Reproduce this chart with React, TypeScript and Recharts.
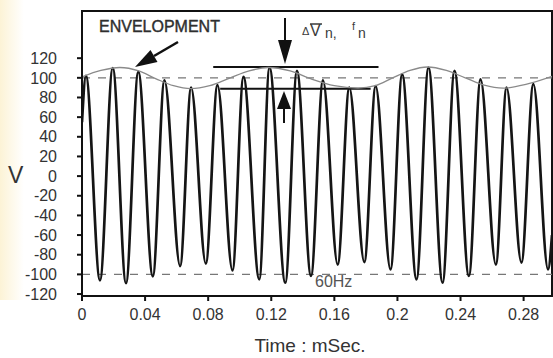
import { ComposedChart, Line, XAxis, YAxis, ReferenceLine, ReferenceArea } from "recharts";

// 60 Hz voltage with a slow modulation of the amplitude (flicker)
const peakTimes = [0.0025, 0.0195, 0.0357, 0.0523, 0.0692, 0.0859, 0.1024, 0.1189, 0.1363, 0.1528, 0.1695, 0.1862, 0.203, 0.2197, 0.2362, 0.2527, 0.2692, 0.2862];
const peakValues = [102, 110, 106, 97.5, 90, 92.5, 101, 110.5, 107, 97.5, 90, 91.5, 103.5, 110.5, 107, 98.5, 90, 93.5];
const troughTimes = [0.0114, 0.0279, 0.0449, 0.0622, 0.0785, 0.0954, 0.1124, 0.1289, 0.1452, 0.1621, 0.179, 0.1956, 0.2121, 0.2286, 0.2453, 0.2624, 0.2786, 0.2955];
const troughValues = [-106, -109, -102, -91.5, -89, -96, -105, -108.5, -101.5, -90, -87.5, -95, -105, -108.5, -101.5, -90, -88, -95];
const waveStart = { t: 0, v: 55 };
const waveEnd = { t: 0.298, v: -60 };

const envTimes = [0, 0.012, 0.024, 0.036, 0.047, 0.058, 0.069, 0.081, 0.094, 0.106, 0.118, 0.132, 0.146, 0.16, 0.175, 0.186, 0.197, 0.208, 0.219, 0.231, 0.243, 0.255, 0.267, 0.282, 0.298];
const envValues = [101, 107.5, 110.5, 107, 99, 92, 89, 92, 100, 107, 110.5, 107, 98.5, 92, 89.5, 92, 100, 107.5, 111, 107.5, 100, 92.5, 89.5, 93.5, 101.5];

const xTicks = [0, 0.04, 0.08, 0.12, 0.16, 0.2, 0.24, 0.28];
const yTicks = [-120, -100, -80, -60, -40, -20, 0, 20, 40, 60, 80, 100, 120];
const xDomain = [0, 0.298];
const yDomain = [-122, 168];

const deltaTop = { v: 111, from: 0.0832, to: 0.188 };
const deltaBottom = { v: 89, from: 0.0876, to: 0.183 };

const waveData = [
  waveStart,
  ...peakTimes.flatMap((t, i) => [
    { t, v: peakValues[i] },
    { t: troughTimes[i], v: troughValues[i] },
  ]),
  waveEnd,
];
const envData = envTimes.map((t, i) => ({ t, v: envValues[i] }));

const font = "'Liberation Sans', Arial, sans-serif";
const ink = "#333";

export default function App() {
  return (
    <div style={{ position: "fixed", left: 0, top: 0, width: 553, height: 358, background: "#fff", fontFamily: font }}>
      <div
        style={{
          position: "absolute",
          left: 0,
          top: 0,
          width: 24,
          height: 300,
          background: "linear-gradient(to right, #fcf3d6, rgba(255,255,255,0))",
        }}
      />
      <ComposedChart
        width={553}
        height={358}
        margin={{ top: 11, right: 1, left: 0, bottom: 0 }}
        style={{ position: "absolute", left: 0, top: 0 }}
      >
        <XAxis
          dataKey="t"
          type="number"
          domain={xDomain}
          ticks={xTicks}
          interval={0}
          allowDataOverflow
          height={62}
          stroke="#111"
          strokeWidth={2}
          tickSize={5}
          tickMargin={8}
          tick={{ fill: ink, fontSize: 16, fontFamily: font }}
        />
        <YAxis
          type="number"
          domain={yDomain}
          ticks={yTicks}
          interval={0}
          allowDataOverflow
          width={82}
          stroke="#111"
          strokeWidth={2}
          tickSize={5}
          tickMargin={20}
          tick={{ fill: ink, fontSize: 16, fontFamily: font }}
        />
        <ReferenceArea
          x1={xDomain[0]}
          x2={xDomain[1]}
          y1={yDomain[0]}
          y2={yDomain[1]}
          fill="none"
          fillOpacity={0}
          stroke="#111"
          strokeWidth={2}
          ifOverflow="visible"
        />
        <ReferenceLine y={100} stroke="#777" strokeWidth={1.3} strokeDasharray="8 8" />
        <ReferenceLine y={-100} stroke="#777" strokeWidth={1.3} strokeDasharray="8 8" />
        <ReferenceLine
          segment={[{ x: deltaTop.from, y: deltaTop.v }, { x: deltaTop.to, y: deltaTop.v }]}
          stroke="#111"
          strokeWidth={2}
        />
        <ReferenceLine
          segment={[{ x: deltaBottom.from, y: deltaBottom.v }, { x: deltaBottom.to, y: deltaBottom.v }]}
          stroke="#111"
          strokeWidth={2}
        />
        <Line data={waveData} dataKey="v" type="monotone" stroke="#151515" strokeWidth={2.7} dot={false} isAnimationActive={false} />
        <Line data={envData} dataKey="v" type="monotone" stroke="#8a8a8a" strokeWidth={1.3} dot={false} isAnimationActive={false} />
      </ComposedChart>

      <svg width={553} height={358} style={{ position: "absolute", left: 0, top: 0, pointerEvents: "none" }}>
        <text x={99} y={32} fontSize={16} fill="#2e2e2e" fontFamily={font} stroke="#2e2e2e" strokeWidth={0.4}>ENVELOPMENT</text>
        <line x1={178} y1={42} x2={154} y2={56} stroke="#111" strokeWidth={2.5} />
        <polygon points="135,67 157.5,62 150.5,50" fill="#111" />

        <line x1={285} y1={18} x2={285} y2={42} stroke="#111" strokeWidth={2} />
        <polygon points="278,40 292,40 285,64" fill="#111" />
        <polygon points="284,91 277,109 291,109" fill="#111" />
        <line x1={284} y1={107} x2={284} y2={123} stroke="#111" strokeWidth={2} />

        <text x={302} y={35} fontSize={11} fill="#3a3a3a" fontFamily={font}>Δ</text>
        <text x={310} y={36} fontSize={16} fill="#3a3a3a" fontFamily={font}>V</text>
        <line x1={310} y1={24} x2={322} y2={24} stroke="#3a3a3a" strokeWidth={1.5} />
        <text x={325} y={38} fontSize={14} fill="#3a3a3a" fontFamily={font}>n,</text>
        <text x={352} y={30} fontSize={11} fill="#3a3a3a" fontFamily={font}>f</text>
        <text x={358} y={38} fontSize={14} fill="#3a3a3a" fontFamily={font}>n</text>

        <text x={315} y={287} fontSize={16} fill="#555" fontFamily={font}>60Hz</text>
        <text x={8} y={183} fontSize={23} fill={ink} fontFamily={font}>V</text>
        <text x={310} y={352} fontSize={19} fill={ink} fontFamily={font} textAnchor="middle">Time : mSec.</text>
      </svg>
    </div>
  );
}
